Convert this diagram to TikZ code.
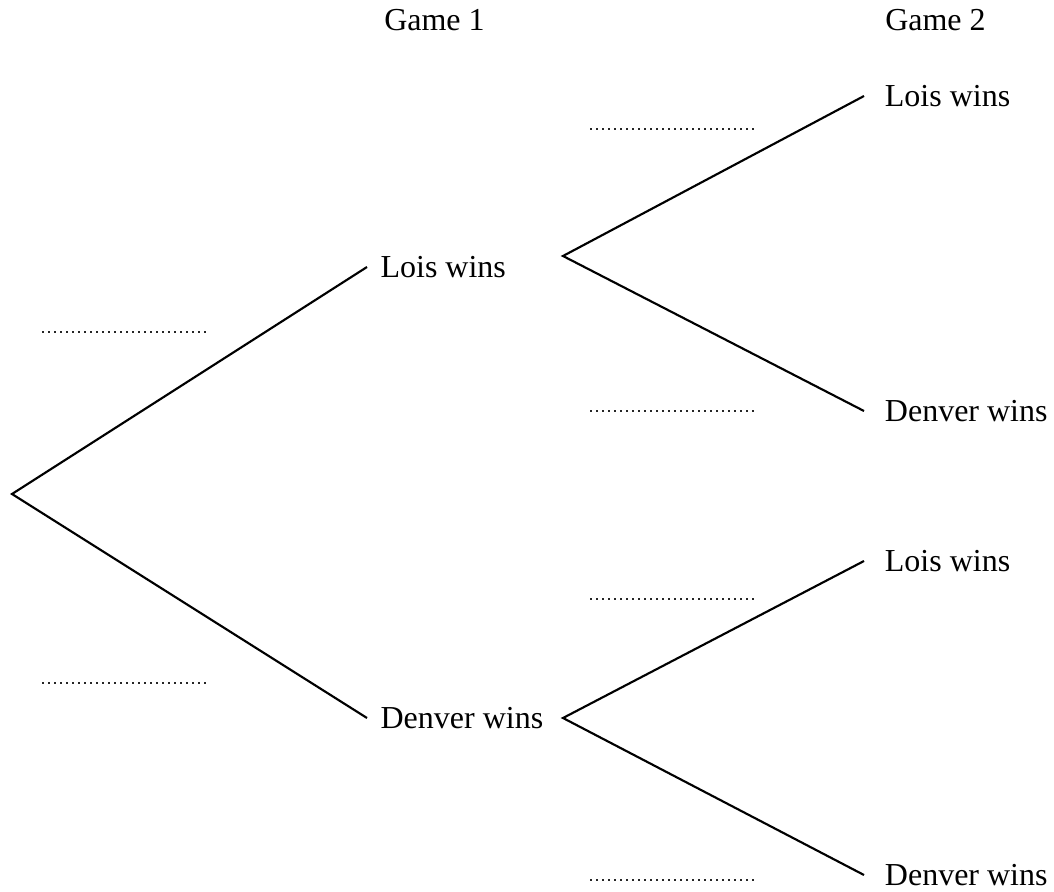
\documentclass[tikz,border=0pt]{standalone}
\usepackage{fontspec}
\setmainfont{Liberation Serif}
\begin{document}
\begin{tikzpicture}[x=0.75pt,y=-0.75pt]
\tikzset{every node/.style={font=\fontsize{24}{28}\selectfont,inner ysep=0pt},
  mid/.style={anchor=west,inner xsep=10pt},leaf/.style={anchor=west,inner xsep=15.5pt},
  branch/.style={line width=1.6pt,line join=miter},blank/.style={line width=1.5pt,color=black!85,dash pattern=on 1.5pt off 3pt}}
\useasboundingbox (0,0) rectangle (1054,892);
\node[anchor=west,inner xsep=0pt] (game1) at (384,20) {Game 1};
\node[anchor=west,inner xsep=0pt] (game2) at (885,20) {Game 2};
\coordinate (root) at (12,494);
\node[mid] (lois1) at (367,267) {Lois wins};
\node[mid] (denver1) at (367,718) {Denver wins};
\coordinate (fork1) at (563,256);
\coordinate (fork2) at (563,718);
\node[leaf] (lois2) at (864,96) {Lois wins};
\node[leaf] (denver2) at (864,411) {Denver wins};
\node[leaf] (lois3) at (864,561) {Lois wins};
\node[leaf] (denver3) at (864,875) {Denver wins};
\draw[branch] (lois1.west) -- (root) -- (denver1.west);
\draw[branch] (lois2.west) -- (fork1) -- (denver2.west);
\draw[branch] (lois3.west) -- (fork2) -- (denver3.west);
\draw[blank] (42,332) -- (208,332);
\draw[blank] (42,683) -- (208,683);
\draw[blank] (590,129) -- (756,129);
\draw[blank] (590,411) -- (756,411);
\draw[blank] (590,599) -- (756,599);
\draw[blank] (590,880) -- (756,880);
\end{tikzpicture}
\end{document}
